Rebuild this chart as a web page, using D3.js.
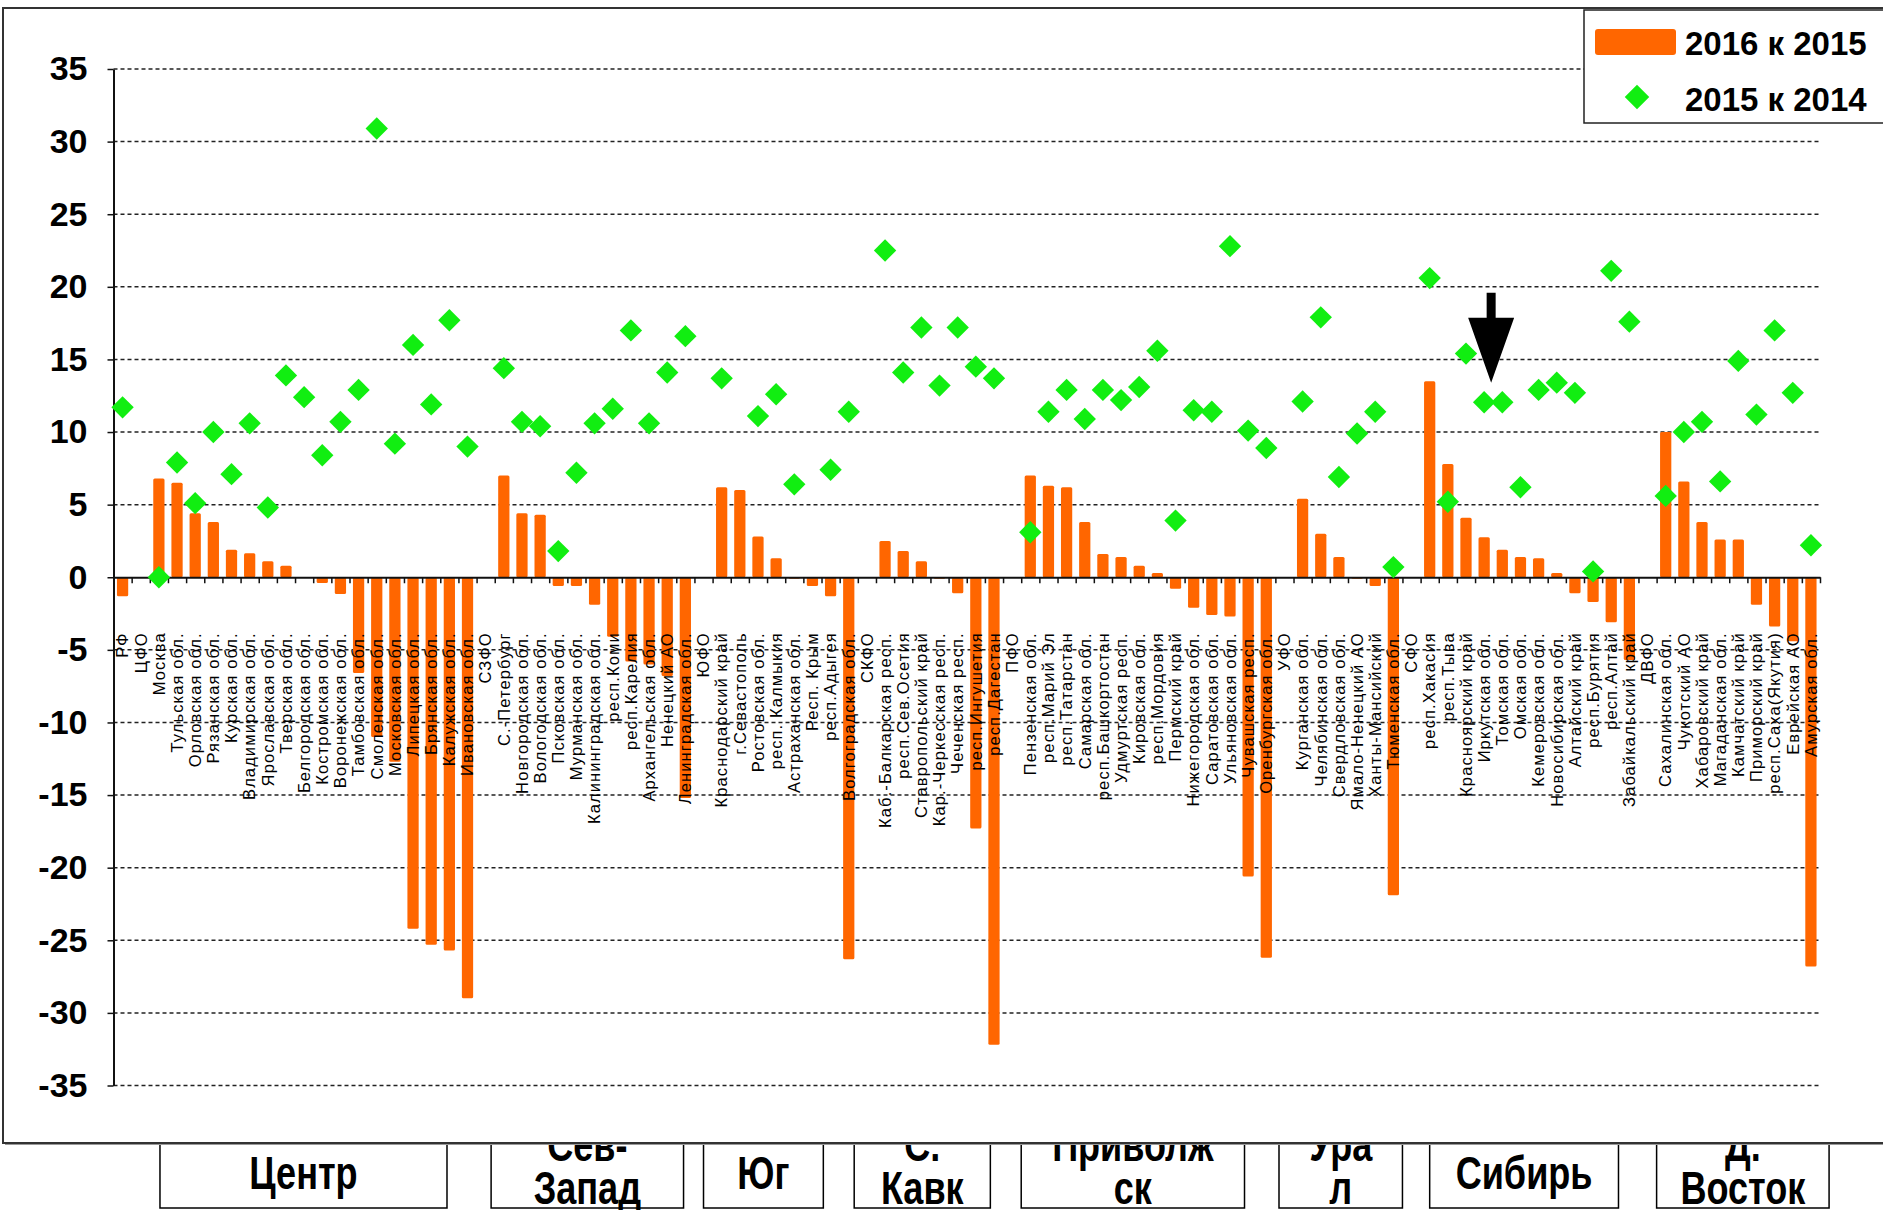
<!DOCTYPE html>
<html>
<head>
<meta charset="utf-8">
<script src="https://cdn.jsdelivr.net/npm/d3@7"></script>
<style>
  body { margin: 0; background: #fff; }
  svg { display: block; font-family: "Liberation Sans", Arial, sans-serif; }
</style>
</head>
<body>
<div id="chart"></div>
<script>
var categories = [
  "РФ","ЦФО","Москва","Тульская обл.","Орловская обл.","Рязанская обл.","Курская обл.","Владимирская обл.","Ярославская обл.","Тверская обл.","Белгородская обл.","Костромская обл.","Воронежская обл.","Тамбовская обл.","Смоленская обл.","Московская обл.","Липецкая обл.","Брянская обл.","Калужская обл.","Ивановская обл.",
  "СЗФО","С.-Петербург","Новгородская обл.","Вологодская обл.","Псковская обл.","Мурманская обл.","Калининградская обл.","респ.Коми","респ.Карелия","Архангельская обл.","Ненецкий АО","Ленинградская обл.",
  "ЮФО","Краснодарский край","г.Севастополь","Ростовская обл.","респ. Калмыкия","Астраханская обл.","Респ. Крым","респ.Адыгея","Волгоградская обл.",
  "СКФО","Каб.-Балкарская респ.","респ.Сев.Осетия","Ставропольский край","Кар.-Черкесская респ.","Чеченская респ.","респ.Ингушетия","респ.Дагестан",
  "ПФО","Пензенская обл.","респ.Марий Эл","респ.Татарстан","Самарская обл.","респ.Башкортостан","Удмуртская респ.","Кировская обл.","респ.Мордовия","Пермский край","Нижегородская обл.","Саратовская обл.","Ульяновская обл.","Чувашская респ.","Оренбургская обл.",
  "УФО","Курганская обл.","Челябинская обл.","Свердловская обл.","Ямало-Ненецкий АО","Ханты-Мансийский","Тюменская обл.",
  "СФО","респ.Хакасия","респ.Тыва","Красноярский край","Иркутская обл.","Томская обл.","Омская обл.","Кемеровская обл.","Новосибирская обл.","Алтайский край","респ.Бурятия","респ.Алтай","Забайкальский край",
  "ДВФО","Сахалинская обл.","Чукотский АО","Хабаровский край","Магаданская обл.","Камчатский край","Приморский край","респ.Саха(Якутия)","Еврейская АО","Амурская обл."
];

// 2016 к 2015 (bars)
var v2016 = [
  -1.3, null, 6.8, 6.5, 4.4, 3.8, 1.9, 1.65, 1.1, 0.8, 0, -0.4, -1.15, -6.6, -11.0, -12.7, -24.2, -25.3, -25.7, -29.0,
  null, 7.0, 4.4, 4.3, -0.6, -0.6, -1.9, -4.1, -5.8, -6.0, -6.8, -15.2,
  null, 6.2, 6.0, 2.8, 1.3, -0.1, -0.6, -1.3, -26.3,
  null, 2.5, 1.8, 1.1, -0.1, -1.1, -17.3, -32.2,
  null, 7.0, 6.3, 6.2, 3.8, 1.6, 1.4, 0.8, 0.3, -0.8, -2.1, -2.6, -2.7, -20.6, -26.2,
  null, 5.4, 3.0, 1.4, -0.1, -0.6, -21.9,
  null, 13.5, 7.8, 4.1, 2.75, 1.9, 1.4, 1.3, 0.3, -1.1, -1.7, -3.1, -5.7,
  null, 10.0, 6.6, 3.8, 2.6, 2.6, -1.9, -3.4, -4.4, -26.8
];

// 2015 к 2014 (diamonds)
var v2015 = [
  11.7, null, 0.0, 7.9, 5.1, 10.0, 7.1, 10.6, 4.8, 13.9, 12.4, 8.4, 10.7, 12.9, 30.9, 9.2, 16.0, 11.9, 17.7, 9.0,
  null, 14.4, 10.7, 10.4, 1.8, 7.2, 10.6, 11.6, 17.0, 10.6, 14.1, 16.6,
  null, 13.7, null, 11.1, 12.6, 6.4, null, 7.4, 11.4,
  null, 22.5, 14.1, 17.2, 13.2, 17.2, 14.5, 13.7,
  null, 3.1, 11.4, 12.9, 10.9, 12.9, 12.2, 13.1, 15.6, 3.9, 11.5, 11.4, 22.8, 10.1, 8.9,
  null, 12.1, 17.9, 6.9, 9.9, 11.4, 0.7,
  null, 20.6, 5.2, 15.4, 12.05, 12.05, 6.2, 12.9, 13.4, 12.7, 0.4, 21.1, 17.6,
  null, 5.6, 10.0, 10.7, 6.6, 14.9, 11.2, 17.0, 12.7, 2.2
];

var yTicks = [-35, -30, -25, -20, -15, -10, -5, 0, 5, 10, 15, 20, 25, 30, 35];
var seriesNames = ["2016 к 2015", "2015 к 2014"];
var regionNames = [["Центр"], ["Сев-", "Запад"], ["Юг"], ["С.", "Кавк"], ["Приволж", "ск"], ["Ура", "л"], ["Сибирь"], ["Д.", "Восток"]];
// pointer arrow: category, value range it spans
var arrowAt = {cat: "Иркутская обл.", from: 19.6, to: 13.4};

// layout
var W = 1883, H = 1210;
var plotL = 113.5, plotR = 1820, plotT = 69, plotB = 1085.5;
var regionSpans = [[2.56, 18.37], [20.8, 31.4], [32.5, 39.1], [40.8, 48.3], [50.0, 62.3], [64.2, 71.0], [72.5, 82.9], [85.0, 94.5]];

var svg = d3.select("#chart").append("svg")
  .attr("width", W)
  .attr("height", H);

var x = d3.scaleBand().domain(categories).range([plotL, plotR]).padding(0);
var idx = d3.scaleLinear().domain([0, categories.length]).range([plotL, plotR]);
var y = d3.scaleLinear().domain([-35, 35]).range([plotB, plotT]);
var step = x.step();

// region boxes (partly hidden under the chart frame)
var reg = svg.append("g");
regionNames.forEach(function(lines, k) {
  var a = idx(regionSpans[k][0]), b = idx(regionSpans[k][1]);
  reg.append("rect")
    .attr("x", a).attr("y", 1100)
    .attr("width", b - a).attr("height", 108)
    .attr("fill", "#fff").attr("stroke", "#000").attr("stroke-width", 1.5);
  var base = lines.length == 1 ? [1189] : [1161, 1204];
  lines.forEach(function(t, j) {
    reg.append("text")
      .attr("transform", "translate(" + ((a + b) / 2) + "," + base[j] + ") scale(0.82,1.05)")
      .attr("text-anchor", "middle")
      .style("font-size", "44px")
      .style("font-weight", "bold")
      .text(t);
  });
});

// chart frame
svg.append("rect")
  .attr("x", 5).attr("y", 10).attr("width", 1895).attr("height", 1135)
  .attr("fill", "#999");
svg.append("rect")
  .attr("x", 3).attr("y", 8).attr("width", 1895).attr("height", 1135)
  .attr("fill", "#fff").attr("stroke", "#333").attr("stroke-width", 2);

// gridlines
svg.append("g").selectAll("line")
  .data(yTicks.filter(function(d) { return d != 0; }))
  .enter().append("line")
  .attr("x1", plotL).attr("x2", plotR)
  .attr("y1", function(d) { return y(d); })
  .attr("y2", function(d) { return y(d); })
  .attr("stroke", "#222")
  .attr("stroke-width", 1.5)
  .attr("stroke-dasharray", "4,3");

// bars
var barW = step * 0.62;
svg.append("g").selectAll("rect")
  .data(categories.map(function(c, i) { return {c: c, v: v2016[i]}; }).filter(function(d) { return d.v != null; }))
  .enter().append("rect")
  .attr("x", function(d) { return x(d.c) + (step - barW) / 2; })
  .attr("y", function(d) { return y(Math.max(0, d.v)); })
  .attr("width", barW)
  .attr("height", function(d) { return Math.abs(y(d.v) - y(0)); })
  .attr("rx", 1.5)
  .attr("fill", "#ff6600");

// zero axis with category ticks
svg.append("g")
  .attr("transform", "translate(0," + y(0) + ")")
  .call(d3.axisBottom(idx).tickValues(d3.range(0, categories.length + 1)).tickSize(6).tickSizeOuter(0).tickFormat(""))
  .call(function(g) {
    g.select(".domain").attr("stroke", "#111").attr("stroke-width", 2);
    g.selectAll(".tick line").attr("stroke", "#111").attr("stroke-width", 1.5);
  });

// category labels
svg.append("g").selectAll("text")
  .data(categories)
  .enter().append("text")
  .attr("transform", function(d) { return "translate(" + (x(d) + step / 2) + "," + (y(0) + 55) + ") rotate(-90)"; })
  .attr("dy", "0.35em")
  .attr("text-anchor", "end")
  .style("font-size", "16.5px")
  .style("letter-spacing", "1.1px")
  .text(function(d) { return d; });

// y axis
svg.append("g")
  .attr("transform", "translate(" + plotL + ",0)")
  .call(d3.axisLeft(y).tickValues(yTicks).tickSize(6).tickSizeOuter(0).tickPadding(20)
    .tickFormat(function(d) { return String(d); }))
  .call(function(g) {
    g.select(".domain").attr("stroke", "#111").attr("stroke-width", 2);
    g.selectAll(".tick line").attr("stroke", "#111").attr("stroke-width", 1.5);
    g.selectAll("text")
      .attr("fill", "#000")
      .style("font-size", "34px")
      .style("font-weight", "bold")
      .style("font-family", "'Liberation Sans', Arial, sans-serif");
  });

// diamonds
var diamond = d3.symbol().type(d3.symbolSquare).size(250);
svg.append("g").selectAll("path")
  .data(categories.map(function(c, i) { return {c: c, v: v2015[i]}; }).filter(function(d) { return d.v != null; }))
  .enter().append("path")
  .attr("d", diamond)
  .attr("transform", function(d) { return "translate(" + (x(d.c) + step / 2) + "," + y(d.v) + ") rotate(45)"; })
  .attr("fill", "#11ee11");

// arrow
var ax = x(arrowAt.cat) + step / 2 + 7, ya = y(arrowAt.from), yb = y(arrowAt.to);
var headLen = 65, sw = 4.5, hw = 23;
svg.append("path")
  .attr("d", "M" + (ax - sw) + "," + ya + "L" + (ax + sw) + "," + ya + "L" + (ax + sw) + "," + (yb - headLen) +
    "L" + (ax + hw) + "," + (yb - headLen) + "L" + ax + "," + yb + "L" + (ax - hw) + "," + (yb - headLen) +
    "L" + (ax - sw) + "," + (yb - headLen) + "Z")
  .attr("fill", "#000");

// legend
var lg = svg.append("g");
lg.append("rect")
  .attr("x", 1584).attr("y", 10).attr("width", 320).attr("height", 113)
  .attr("fill", "#fff").attr("stroke", "#222").attr("stroke-width", 1.5);
lg.append("rect")
  .attr("x", 1595).attr("y", 29).attr("width", 81).attr("height", 26).attr("rx", 3)
  .attr("fill", "#ff6600");
lg.append("path")
  .attr("d", d3.symbol().type(d3.symbolSquare).size(300))
  .attr("transform", "translate(1637,97) rotate(45)")
  .attr("fill", "#11ee11");
lg.selectAll("text")
  .data(seriesNames)
  .enter().append("text")
  .attr("x", 1685)
  .attr("y", function(d, i) { return i == 0 ? 55 : 111; })
  .style("font-size", "33px")
  .style("font-weight", "bold")
  .text(function(d) { return d; });
</script>
</body>
</html>
